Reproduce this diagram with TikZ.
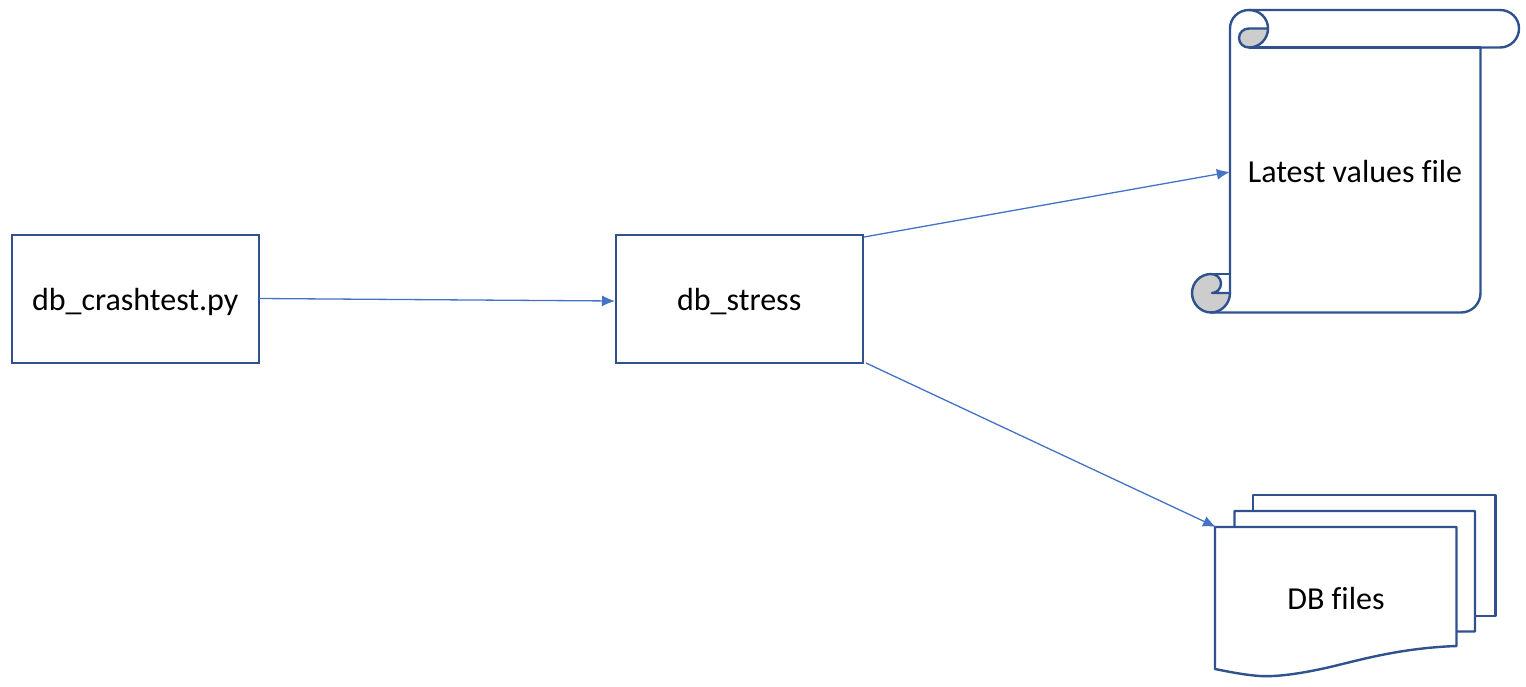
\documentclass[tikz,border=0pt]{standalone}
\usepackage{fontspec}
\setmainfont[Ligatures=NoCommon]{Carlito}
\usetikzlibrary{arrows.meta}
\definecolor{shapeline}{HTML}{2F528F}
\definecolor{arrowline}{HTML}{4472C4}
\definecolor{curlfill}{HTML}{CDCDCD}
\newcommand{\lowered}[1]{\raisebox{-3pt}[\height][\depth]{#1}}
\tikzset{
  boxnode/.style={draw=shapeline,line width=2.4pt,fill=white,minimum width=247pt,minimum height=128pt,inner sep=0pt,font=\fontsize{32}{38}\selectfont},
  anchornode/.style={inner sep=0pt,font=\fontsize{32}{38}\selectfont},
  outline/.style={draw=shapeline,line width=2.4pt,line join=round},
  sheet/.style={outline,fill=white},
  link/.style={draw=arrowline,line width=1.3pt,-{Latex[length=13pt,width=11pt]}}
}
\begin{document}
\begin{tikzpicture}[x=1pt,y=-1pt]
\useasboundingbox (0,0) rectangle (1526,686);
\fill[white] (0,0) rectangle (1526,686);
% scroll
\draw[sheet] (1230,293) -- (1230,28.5) .. controls (1230,18) and (1238.5,10) .. (1249,10) -- (1500,10)
  .. controls (1510.5,10) and (1519,18) .. (1519,28.5) .. controls (1519,39) and (1510.5,47.5) .. (1500,47.5)
  -- (1480.5,47.5) -- (1480.5,293) .. controls (1480.5,303.5) and (1472,312.5) .. (1461,312.5) -- (1211,312.5) -- cycle;
\draw[outline] (1249,47.5) -- (1480.5,47.5);
\draw[outline,fill=curlfill] (1249,47.5) .. controls (1243.5,47.5) and (1239,43.5) .. (1239,38) .. controls (1239,32.5) and (1243.5,28.5) .. (1249,28.5) -- (1268,28.5) .. controls (1268,39) and (1259.5,47.5) .. (1249,47.5) -- cycle;
\draw[outline] (1249,10) .. controls (1259.5,10) and (1268,18) .. (1268,28.5);
\draw[outline,fill=curlfill] (1211,274) .. controls (1200.5,274) and (1192,282.5) .. (1192,293) .. controls (1192,303.5) and (1200.5,312.5) .. (1211,312.5) .. controls (1221.5,312.5) and (1230,303.5) .. (1230,293) -- (1212,293) .. controls (1217,293) and (1221,288.5) .. (1221,283.5) .. controls (1221,278) and (1216.5,274) .. (1211,274) -- cycle;
\draw[outline] (1211,274) -- (1230,274);
% document stack
\draw[sheet] (1253,616) -- (1253,495) -- (1495.5,495) -- (1495.5,616) -- cycle;
\draw[sheet] (1234.5,632) -- (1234.5,511) -- (1475,511) -- (1475,631.5) -- cycle;
\draw[sheet] (1215,527) -- (1456.5,527) -- (1456.5,646) .. controls (1400,648) and (1360,660) .. (1330,667) .. controls (1300,674) and (1275,677) .. (1260,676) .. controls (1245,675) and (1230,672) .. (1215,669) -- cycle;
% nodes
\node[boxnode] (crash) at (135.2,299) {\lowered{db\_crashtest.py}};
\node[boxnode] (stress) at (739.2,299) {\lowered{db\_stress}};
\node[anchornode,minimum width=250pt] (latest) at (1355,172) {Latest values file};
\node[anchornode] (dbfiles) at (1336,598) {DB files};
% connection points
\coordinate (crashout) at (259,298.5);
\coordinate (stressin) at (615,301);
\coordinate (stressa) at (864,237);
\coordinate (stressb) at (866,363);
\coordinate (dbin) at (1216,527);
\path[link] (crashout) -- (stressin);
\path[link] (stressa) -- (latest.west);
\path[link] (stressb) -- (dbin);
\end{tikzpicture}
\end{document}
